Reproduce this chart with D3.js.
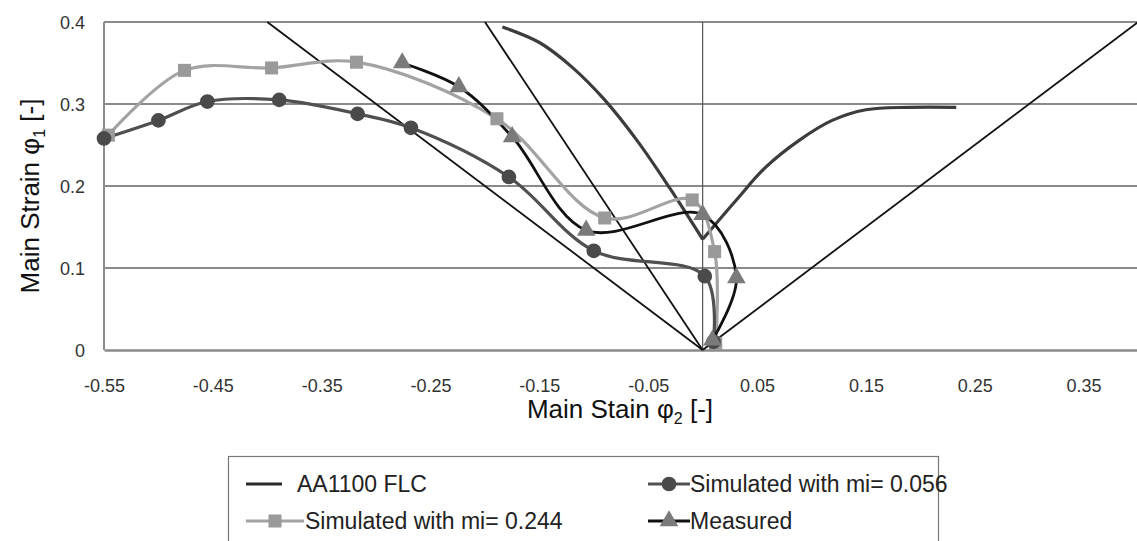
<!DOCTYPE html>
<html><head><meta charset="utf-8">
<script src="https://cdn.jsdelivr.net/npm/d3@7"></script>
<style>
html,body{margin:0;padding:0;background:#fff;}
svg{display:block;font-family:"Liberation Sans",Arial,sans-serif;}
</style></head>
<body>
<svg id="chart" width="1137" height="541"></svg>
<script>
// ---------- data ----------
const xTicks = [-0.55, -0.45, -0.35, -0.25, -0.15, -0.05, 0.05, 0.15, 0.25, 0.35];
const yTicks = [0, 0.1, 0.2, 0.3, 0.4];

// AA1100 FLC (two branches meeting at a corner)
const flcLeftX  = [-0.184, -0.15, -0.12, -0.09, -0.06, -0.03, 0.0];
const flcLeftY  = [0.394, 0.375, 0.345, 0.305, 0.255, 0.197, 0.135];
const flcRightX = [0.0, 0.031, 0.058, 0.089, 0.119, 0.150, 0.19, 0.233];
const flcRightY = [0.135, 0.183, 0.223, 0.256, 0.280, 0.293, 0.296, 0.296];

// strain paths (ratios phi1/phi2) drawn from origin to top of plot
const pathSlopes = [-1, -2, 1];

// Simulated with mi = 0.056
const sim056X = [-0.55, -0.50, -0.455, -0.389, -0.317, -0.268, -0.178, -0.100, 0.002, 0.010];
const sim056Y = [0.258, 0.280, 0.303, 0.305, 0.288, 0.271, 0.211, 0.121, 0.090, 0.010];

// Simulated with mi = 0.244
const sim244X = [-0.546, -0.476, -0.396, -0.318, -0.189, -0.090, -0.0096, 0.011, 0.012];
const sim244Y = [0.262, 0.341, 0.344, 0.351, 0.282, 0.161, 0.183, 0.120, 0.008];

// Measured
const measX = [-0.276, -0.224, -0.175, -0.107, 0.000, 0.031, 0.009];
const measY = [0.350, 0.321, 0.260, 0.146, 0.165, 0.088, 0.012];

// ---------- chart ----------
const svg = d3.select("#chart");
const x = d3.scaleLinear().domain([-0.55, 0.4]).range([104, 1138]);
const y = d3.scaleLinear().domain([0, 0.4]).range([350, 22]);

const zip = (a, b) => a.map((v, i) => [v, b[i]]);
const curve = d3.curveCatmullRom.alpha(0.5);
const line = d3.line().x(d => x(d[0])).y(d => y(d[1])).curve(curve);
const straight = d3.line().x(d => x(d[0])).y(d => y(d[1]));

// gridlines
svg.append("g").selectAll("line").data(yTicks.filter(v => v > 0)).join("line")
  .attr("x1", x(-0.55)).attr("x2", 1137)
  .attr("y1", d => y(d)).attr("y2", d => y(d))
  .attr("stroke", "#8a8a8a").attr("stroke-width", 2);

// left border
svg.append("line").attr("x1", x(-0.55)).attr("x2", x(-0.55))
  .attr("y1", y(0.4)).attr("y2", y(0)).attr("stroke", "#8a8a8a").attr("stroke-width", 2);

// vertical line at 0
svg.append("line").attr("x1", x(0)).attr("x2", x(0))
  .attr("y1", y(0.4)).attr("y2", y(0)).attr("stroke", "#555").attr("stroke-width", 1.2);

// x axis
const fmtX = d => d3.format(".2f")(d).replace("\u2212", "-");
const xAxis = d3.axisBottom(x).tickValues(xTicks).tickSize(0).tickPadding(0).tickFormat(fmtX);
const gx = svg.append("g").attr("transform", `translate(0,${y(0)})`).call(xAxis);
gx.select(".domain").attr("stroke", "#8a8a8a").attr("stroke-width", 2.5);
gx.selectAll("text").attr("dy", null).attr("y", 42).attr("font-size", 18)
  .attr("fill", "#333").attr("font-family", "Liberation Sans, Arial, sans-serif");

// y axis
const yAxis = d3.axisLeft(y).tickValues(yTicks).tickSize(0).tickPadding(0)
  .tickFormat(d => d === 0 ? "0" : d3.format(".1f")(d));
const gy = svg.append("g").attr("transform", `translate(85,0)`).call(yAxis);
gy.select(".domain").remove();
gy.selectAll("text").attr("font-size", 18).attr("fill", "#333")
  .attr("font-family", "Liberation Sans, Arial, sans-serif").attr("dy", "0.35em");

// strain paths
svg.append("g").selectAll("path").data(pathSlopes).join("path")
  .attr("d", s => straight([[0, 0], [0.4 / s, 0.4]]))
  .attr("fill", "none").attr("stroke", "#111").attr("stroke-width", 1.8);

// FLC
[zip(flcLeftX, flcLeftY), zip(flcRightX, flcRightY)].forEach(pts => {
  svg.append("path").attr("d", line(pts)).attr("fill", "none")
    .attr("stroke", "#3c3c3c").attr("stroke-width", 3.2);
});

// series 0.244
const s244 = zip(sim244X, sim244Y);
svg.append("path").attr("d", line(s244)).attr("fill", "none")
  .attr("stroke", "#a3a3a3").attr("stroke-width", 3.2);
// series 0.056
const s056 = zip(sim056X, sim056Y);
svg.append("path").attr("d", line(s056)).attr("fill", "none")
  .attr("stroke", "#505050").attr("stroke-width", 3.2);
// measured
const sm = zip(measX, measY);
svg.append("path").attr("d", line(sm)).attr("fill", "none")
  .attr("stroke", "#111").attr("stroke-width", 2.8);

const sq = d3.symbol().type(d3.symbolSquare).size(170);
const ci = d3.symbol().type(d3.symbolCircle).size(170);
const tr = d3.symbol().type(d3.symbolTriangle).size(150);

svg.append("g").selectAll("path").data(s244).join("path")
  .attr("transform", d => `translate(${x(d[0])},${y(d[1])})`).attr("d", sq)
  .attr("fill", "#9a9a9a");
svg.append("g").selectAll("path").data(s056).join("path")
  .attr("transform", d => `translate(${x(d[0])},${y(d[1])})`).attr("d", ci)
  .attr("fill", "#4a4a4a");
svg.append("g").selectAll("path").data(sm).join("path")
  .attr("transform", d => `translate(${x(d[0])},${y(d[1])})`).attr("d", tr)
  .attr("fill", "#7a7a7a");

// axis titles
const xt = svg.append("text").attr("x", 620).attr("y", 418).attr("text-anchor", "middle")
  .attr("font-size", 26).attr("fill", "#111");
xt.append("tspan").text("Main Stain \u03C6");
xt.append("tspan").attr("font-size", 16).attr("dy", 6).text("2");
xt.append("tspan").attr("dy", -6).text(" [-]");

const yt = svg.append("text").attr("transform", "translate(39,196) rotate(-90)")
  .attr("text-anchor", "middle").attr("font-size", 26).attr("fill", "#111");
yt.append("tspan").text("Main Strain \u03C6");
yt.append("tspan").attr("font-size", 16).attr("dy", 6).text("1");
yt.append("tspan").attr("dy", -6).text(" [-]");

// legend
const lg = svg.append("g");
lg.append("rect").attr("x", 228.5).attr("y", 456.5).attr("width", 710).attr("height", 90)
  .attr("fill", "#fff").attr("stroke", "#777").attr("stroke-width", 1.2);
const legendItems = [
  {label: "AA1100 FLC", x0: 246, x1: 282, tx: 297, ty: 484, color: "#2a2a2a", sym: null, w: 3.2},
  {label: "Simulated with mi= 0.056", x0: 648, x1: 690, tx: 690, ty: 484, color: "#505050", sym: ci, mfill: "#4a4a4a", w: 3.2},
  {label: "Simulated with mi= 0.244", x0: 246, x1: 304, tx: 305, ty: 521, color: "#a3a3a3", sym: sq, mfill: "#9a9a9a", w: 3.2},
  {label: "Measured", x0: 648, x1: 690, tx: 690, ty: 521, color: "#111", sym: tr, mfill: "#7a7a7a", w: 2.8}
];
legendItems.forEach(it => {
  lg.append("line").attr("x1", it.x0).attr("x2", it.x1).attr("y1", it.ty).attr("y2", it.ty)
    .attr("stroke", it.color).attr("stroke-width", it.w);
  if (it.sym) lg.append("path").attr("d", it.sym)
    .attr("transform", `translate(${(it.x0 + it.x1) / 2},${it.ty})`).attr("fill", it.mfill);
  lg.append("text").attr("x", it.tx).attr("y", it.ty).attr("dy", "0.35em")
    .attr("font-size", 23).attr("fill", "#222").text(it.label);
});
</script>
</body></html>
